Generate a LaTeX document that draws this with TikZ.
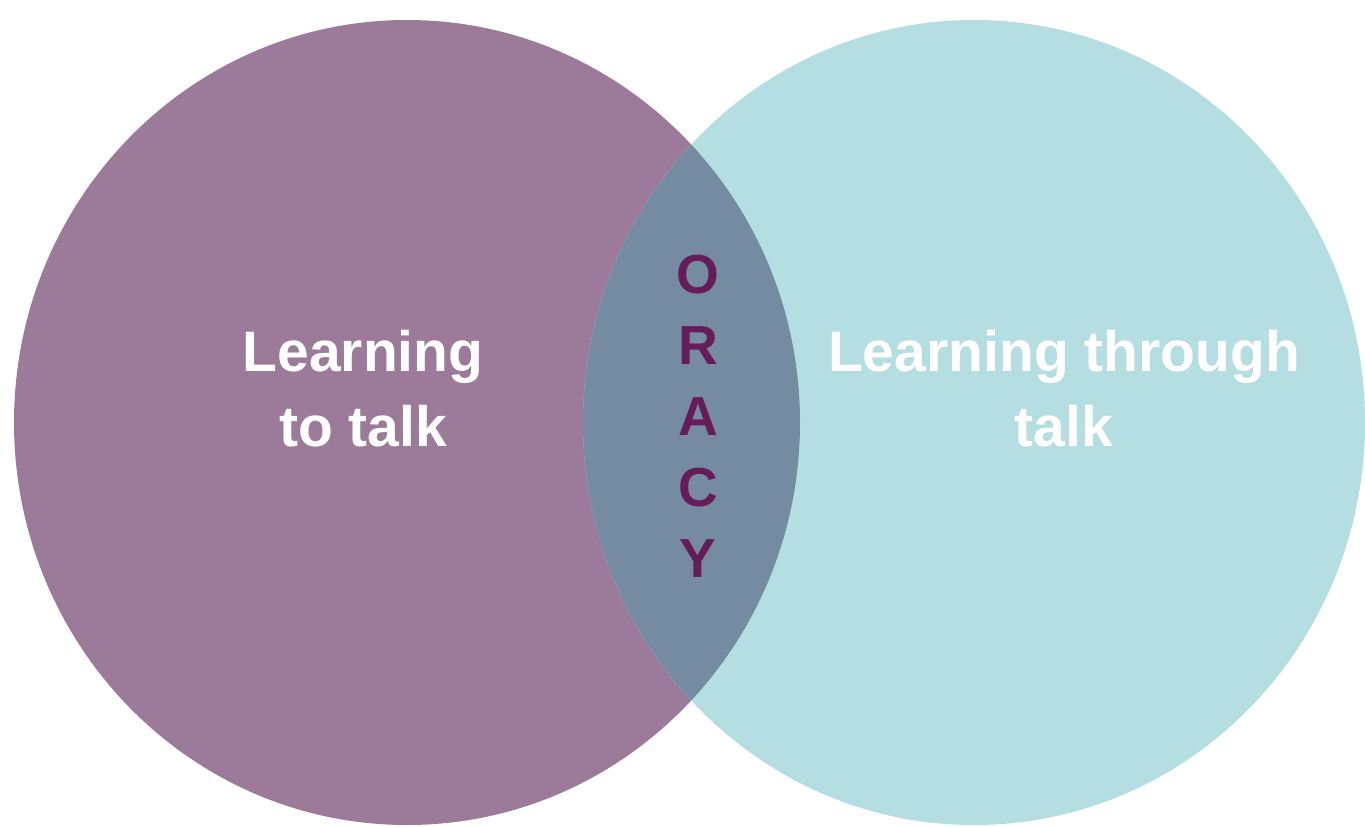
\documentclass[tikz,border=0pt]{standalone}
\usepackage{fontspec}
\setmainfont{Liberation Sans}
\definecolor{leftpurple}{HTML}{9C7B9A}
\definecolor{rightteal}{HTML}{B5DEE2}
\definecolor{overlapblue}{HTML}{748BA1}
\definecolor{oracyletter}{HTML}{661C5A}
\tikzset{
  circlelabel/.style={text=white, font=\bfseries\fontsize{57}{75}\selectfont, align=center, inner sep=0pt},
  oracylabel/.style={text=oracyletter, font=\bfseries\fontsize{55}{71}\selectfont, align=center, inner sep=0pt}
}
\begin{document}
\begin{tikzpicture}[x=1pt,y=-1pt]
\useasboundingbox (0,0) rectangle (1365,827);
\fill[white] (0,0) rectangle (1365,827);
\coordinate (lc) at (407,422.5);
\coordinate (rc) at (974,422.5);
\fill[leftpurple] (lc) ellipse[x radius=393, y radius=402.5];
\fill[rightteal] (rc) ellipse[x radius=391, y radius=402.5];
\begin{scope}
  \clip (lc) ellipse[x radius=393, y radius=402.5];
  \fill[overlapblue] (rc) ellipse[x radius=391, y radius=402.5];
\end{scope}
\node[circlelabel] (lt) at (363,389) {Learning\\to talk};
\node[circlelabel] (lth) at (1064,389) {Learning through\\talk};
\node[oracylabel] (oracy) at (698,416) {O\\R\\A\\C\\Y};
\end{tikzpicture}
\end{document}
